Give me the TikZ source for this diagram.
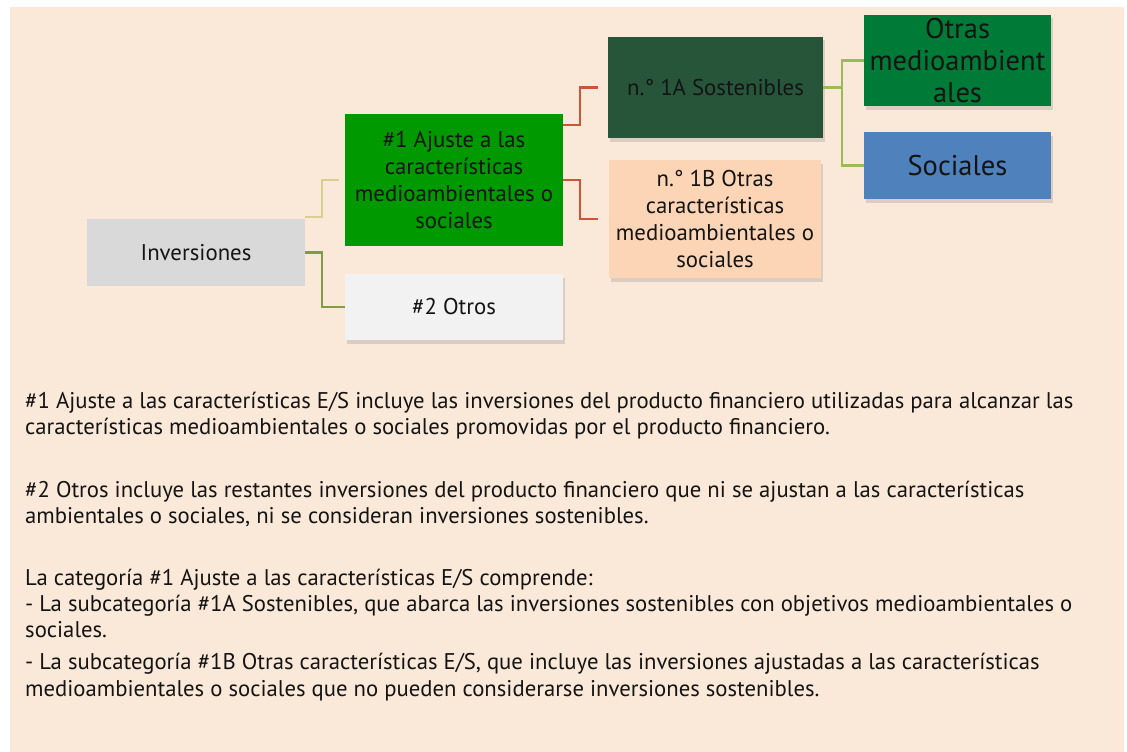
\documentclass[tikz,border=0pt]{standalone}
\usepackage{fontspec}
\setmainfont{PT Sans}
\usepackage{xcolor}
\definecolor{Peach}{HTML}{FAE8D8}
\definecolor{Silver}{HTML}{D9D9D9}
\definecolor{Leaf}{HTML}{009900}
\definecolor{Smoke}{HTML}{F2F2F2}
\definecolor{Forest}{HTML}{26553A}
\definecolor{Apricot}{HTML}{FBD5B5}
\definecolor{Emerald}{HTML}{007A37}
\definecolor{Steel}{HTML}{4F81BD}
\definecolor{Khaki}{HTML}{D8CF93}
\definecolor{Olive}{HTML}{7F9C46}
\definecolor{Rust}{HTML}{C9553A}
\definecolor{Lime}{HTML}{9BBB59}
\colorlet{cText}{black!92}
\usepackage{tikz}
\usetikzlibrary{calc, shadows}
\tikzset{
	font = \fontsize{22.8}{27}\selectfont,
	box/.style={
		rectangle,
		align=center,
		inner sep=2pt,
		text=cText
	},
	shadowed/.style={
		drop shadow={shadow xshift=2pt, shadow yshift=-3.5pt, opacity=.25}
	},
	link/.style={
		line width=2.2pt
	},
	bodyline/.style={
		anchor=base west,
		inner sep=0pt,
		text=cText,
		font=\fontsize{22.7}{26}\selectfont
	}
}

\begin{document}
\begin{tikzpicture}[x=1pt, y=-1pt]
\useasboundingbox (0,0) rectangle (1127,752);
\fill[Peach] (10,7) rectangle (1124,752);

% ---
% tree
% ---
\node[box, fill=Silver, minimum width=218pt, minimum height=67pt] at (196,252.5) (inv) {Inversiones};
\node[box, fill=Leaf, minimum width=218pt, minimum height=132pt] at (454,180) (es) {\#1 Ajuste a las\\características\\medioambientales o\\sociales};
\node[box, shadowed, fill=Smoke, minimum width=218pt, minimum height=66pt] at (454,307) (otros) {\#2 Otros};
\node[box, shadowed, fill=Forest, minimum width=215pt, minimum height=101pt] at (715.5,87.5) (sost) {n.° 1A Sostenibles};
\node[box, shadowed, fill=Apricot, minimum width=212pt, minimum height=118pt] at (715,219) (otcar) {n.° 1B Otras\\características\\medioambientales o\\sociales};
\node[box, shadowed, fill=Emerald, minimum width=187pt, minimum height=91pt, font=\fontsize{28.5}{32}\selectfont] at (957.5,60.5) (amb) {Otras\\medioambient\\ales};
\node[box, shadowed, fill=Steel, minimum width=187pt, minimum height=67pt, font=\fontsize{28.5}{32}\selectfont] at (957.5,165.5) (soc) {Sociales};

\draw[link, Khaki, shorten >=6pt] ([yshift=2pt]inv.north east) -- ++(17,0) |- (es.west);
\draw[link, Olive] (inv.east) -- ++(17,0) |- (otros.west);
\draw[link, Rust, shorten >=10pt] ([yshift=55pt]es.east) -- ++(17,0) |- (sost.west);
\draw[link, Rust, shorten >=11pt] (es.east) -- ++(17,0) |- (otcar.west);
\draw[link, Lime] (sost.east) -- ++(19,0) |- (amb.west);
\draw[link, Lime] (sost.east) -- ++(19,0) |- (soc.west);

% ---
% notes
% ---
\node[bodyline] at (25,408) (p1-1) {\#1 Ajuste a las características E/S incluye las inversiones del producto financiero utilizadas para alcanzar las};
\node[bodyline] at (25,434) (p1-2) {características medioambientales o sociales promovidas por el producto financiero.};
\node[bodyline] at (25,497) (p2-1) {\#2 Otros incluye las restantes inversiones del producto financiero que ni se ajustan a las características};
\node[bodyline] at (25,523) (p2-2) {ambientales o sociales, ni se consideran inversiones sostenibles.};
\node[bodyline] at (25,585) (p3-1) {La categoría \#1 Ajuste a las características E/S comprende:};
\node[bodyline] at (25,611) (p3-2) {- La subcategoría \#1A Sostenibles, que abarca las inversiones sostenibles con objetivos medioambientales o};
\node[bodyline] at (25,637) (p3-3) {sociales.};
\node[bodyline] at (25,669) (p3-4) {- La subcategoría \#1B Otras características E/S, que incluye las inversiones ajustadas a las características};
\node[bodyline] at (25,696) (p3-5) {medioambientales o sociales que no pueden considerarse inversiones sostenibles.};
\end{tikzpicture}
\end{document}
